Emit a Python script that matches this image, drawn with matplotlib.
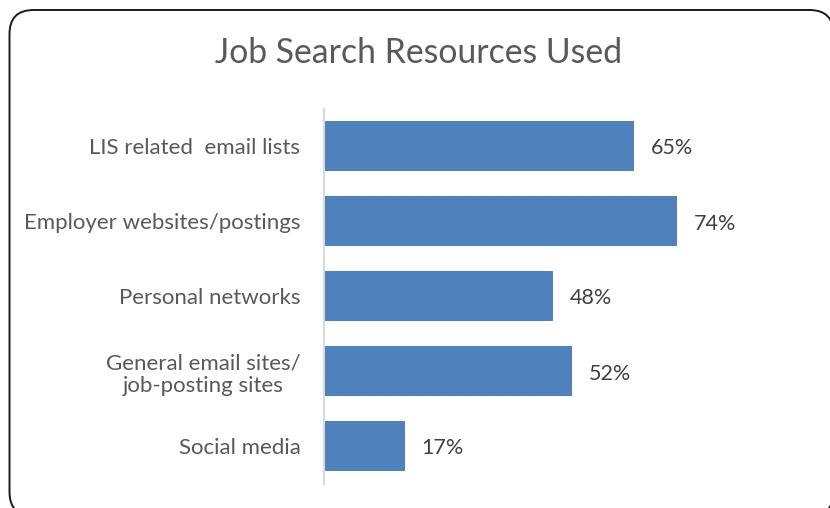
import matplotlib
matplotlib.use("Agg")
import matplotlib.pyplot as plt
from matplotlib.patches import FancyBboxPatch

categories = [
    "LIS related  email lists",
    "Employer websites/postings",
    "Personal networks",
    "General email sites/\njob-posting sites",
    "Social media",
]
values = [65, 74, 48, 52, 17]
title = "Job Search Resources Used"

W, H = 830, 508
fig = plt.figure(figsize=(W / 100, H / 100), dpi=100)
plt.rcParams["font.family"] = ["Lato", "DejaVu Sans"]

# background layer in pixel units for the rounded chart frame
bg = fig.add_axes([0, 0, 1, 1], zorder=-1)
bg.set_xlim(0, W)
bg.set_ylim(H, 0)
bg.axis("off")
frame = FancyBboxPatch((9.5, 10), 824, 506,
                       boxstyle="round,pad=0,rounding_size=24",
                       facecolor="white", edgecolor="#1a1a1a", linewidth=1.4)
bg.add_patch(frame)

# plot area in pixels: x from 324, y from 108.5 to 483.5
ax_left, ax_top, ax_bottom = 324, 108.5, 483.5
xmax = 100
px_per_unit = 310 / 65
ax_width = xmax * px_per_unit
ax = fig.add_axes([ax_left / W, (H - ax_bottom) / H, ax_width / W, (ax_bottom - ax_top) / H])
ax.set_facecolor("none")

y = list(range(len(categories)))
bars = ax.barh(y, values, height=0.667, color="#4f81bd", edgecolor="#4f81bd", linewidth=0)
ax.set_xlim(0, xmax)
ax.set_ylim(len(categories) - 0.5, -0.5)
ax.set_yticks(y)
ax.set_yticklabels(categories, fontsize=16, color="#595959")
for lab in ax.get_yticklabels():
    lab.set_multialignment("center")
ax.tick_params(axis="y", length=0, pad=17)
ax.set_xticks([])
for s in ["top", "right", "bottom"]:
    ax.spines[s].set_visible(False)
ax.spines["left"].set_color("#d9d9d9")
ax.spines["left"].set_linewidth(1.5)

value_labels = ax.bar_label(bars, labels=[f"{v}%" for v in values], padding=12,
                            fontsize=15.5, color="#404040")
# nudge value labels slightly downward (offset in points)
for t in value_labels:
    t.xyann = (12, -1.8)

fig.text(419 / W, 1 - 53 / H, title, ha="center", va="center",
         fontsize=24.3, color="#595959")

fig.savefig("out.png", dpi=100)
